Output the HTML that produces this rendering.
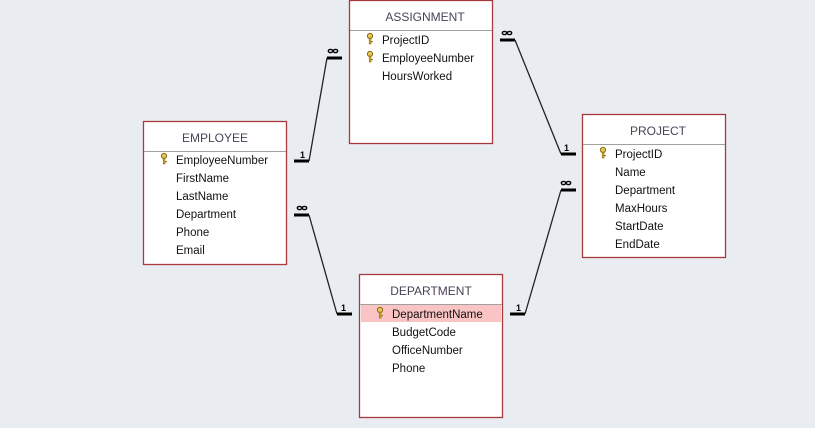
<!DOCTYPE html>
<html><head><meta charset="utf-8"><style>
html,body{margin:0;padding:0;background:#e9edf1;}
svg{display:block;}
text{font-family:"Liberation Sans",sans-serif;}
.t{font-size:12px;fill:#4a4257;text-anchor:middle;}
.f{font-size:11.5px;fill:#111;}
.box{fill:#fff;stroke:#a83a3e;stroke-width:1.3;}
.hl{stroke:#a0a0a0;stroke-width:1;}
.ln{stroke:#222;stroke-width:1.3;fill:none;}
.bar{stroke:#000;stroke-width:3;}
.n{font-size:9px;font-weight:bold;fill:#000;}
.inf{fill:none;stroke:#000;stroke-width:1.4;}
</style></head><body>
<svg width="815" height="428" viewBox="0 0 815 428" xmlns="http://www.w3.org/2000/svg">
<defs>
<g id="key">
<circle cx="3" cy="3" r="2.6" fill="#e8c85a" stroke="#8a6a10" stroke-width="1"/>
<rect x="2.2" y="5" width="1.8" height="6" fill="#d4a830" stroke="#8a6a10" stroke-width="0.6"/>
<rect x="4" y="8" width="1.8" height="1.2" fill="#8a6a10"/>
</g>
<g id="inf">
<ellipse class="inf" cx="2.5" cy="2" rx="2.2" ry="1.6"/>
<ellipse class="inf" cx="7.5" cy="2" rx="2.2" ry="1.6"/>
</g>
</defs>

<!-- EMPLOYEE -->
<rect class="box" x="143.5" y="121.5" width="143" height="143"/>
<line class="hl" x1="144" y1="151.5" x2="286" y2="151.5"/>
<text class="t" x="215" y="142">EMPLOYEE</text>
<use href="#key" x="161" y="153"/>
<text class="f" x="176" y="164">EmployeeNumber</text>
<text class="f" x="176" y="182">FirstName</text>
<text class="f" x="176" y="200">LastName</text>
<text class="f" x="176" y="218">Department</text>
<text class="f" x="176" y="236">Phone</text>
<text class="f" x="176" y="254">Email</text>

<!-- ASSIGNMENT -->
<rect class="box" x="349.5" y="0.5" width="143" height="143"/>
<line class="hl" x1="350" y1="30.5" x2="492" y2="30.5"/>
<text class="t" x="425" y="21">ASSIGNMENT</text>
<use href="#key" x="367" y="33"/>
<text class="f" x="382" y="44">ProjectID</text>
<use href="#key" x="367" y="51"/>
<text class="f" x="382" y="62">EmployeeNumber</text>
<text class="f" x="382" y="80">HoursWorked</text>

<!-- PROJECT -->
<rect class="box" x="582.5" y="114.5" width="143" height="143"/>
<line class="hl" x1="583" y1="144.5" x2="725" y2="144.5"/>
<text class="t" x="658" y="135">PROJECT</text>
<use href="#key" x="600" y="147"/>
<text class="f" x="615" y="158">ProjectID</text>
<text class="f" x="615" y="176">Name</text>
<text class="f" x="615" y="194">Department</text>
<text class="f" x="615" y="212">MaxHours</text>
<text class="f" x="615" y="230">StartDate</text>
<text class="f" x="615" y="248">EndDate</text>

<!-- DEPARTMENT -->
<rect class="box" x="359.5" y="274.5" width="143" height="143"/>
<line class="hl" x1="360" y1="304.5" x2="502" y2="304.5"/>
<rect x="361" y="305" width="140" height="17" fill="#fbc4c4"/>
<text class="t" x="431" y="295">DEPARTMENT</text>
<use href="#key" x="377" y="307"/>
<text class="f" x="392" y="318">DepartmentName</text>
<text class="f" x="392" y="336">BudgetCode</text>
<text class="f" x="392" y="354">OfficeNumber</text>
<text class="f" x="392" y="372">Phone</text>

<!-- EMP - ASSIGN -->
<line class="bar" x1="294" y1="161" x2="309" y2="161"/>
<text class="n" x="300" y="158">1</text>
<polyline class="ln" points="309,161 327,58"/>
<line class="bar" x1="327" y1="58" x2="342" y2="58"/>
<use href="#inf" x="328" y="49"/>

<!-- EMP - DEPT -->
<line class="bar" x1="294" y1="215" x2="309" y2="215"/>
<use href="#inf" x="297" y="206"/>
<polyline class="ln" points="309,215 337,314"/>
<line class="bar" x1="337" y1="314" x2="352" y2="314"/>
<text class="n" x="341" y="311">1</text>

<!-- ASSIGN - PROJ -->
<line class="bar" x1="500" y1="40" x2="515" y2="40"/>
<use href="#inf" x="502" y="31"/>
<polyline class="ln" points="515,40 561,154"/>
<line class="bar" x1="561" y1="154" x2="576" y2="154"/>
<text class="n" x="564" y="151">1</text>

<!-- DEPT - PROJ -->
<line class="bar" x1="510" y1="314" x2="525" y2="314"/>
<text class="n" x="516" y="311">1</text>
<polyline class="ln" points="525,314 561,190"/>
<line class="bar" x1="561" y1="190" x2="576" y2="190"/>
<use href="#inf" x="561" y="181"/>
</svg>
</body></html>
